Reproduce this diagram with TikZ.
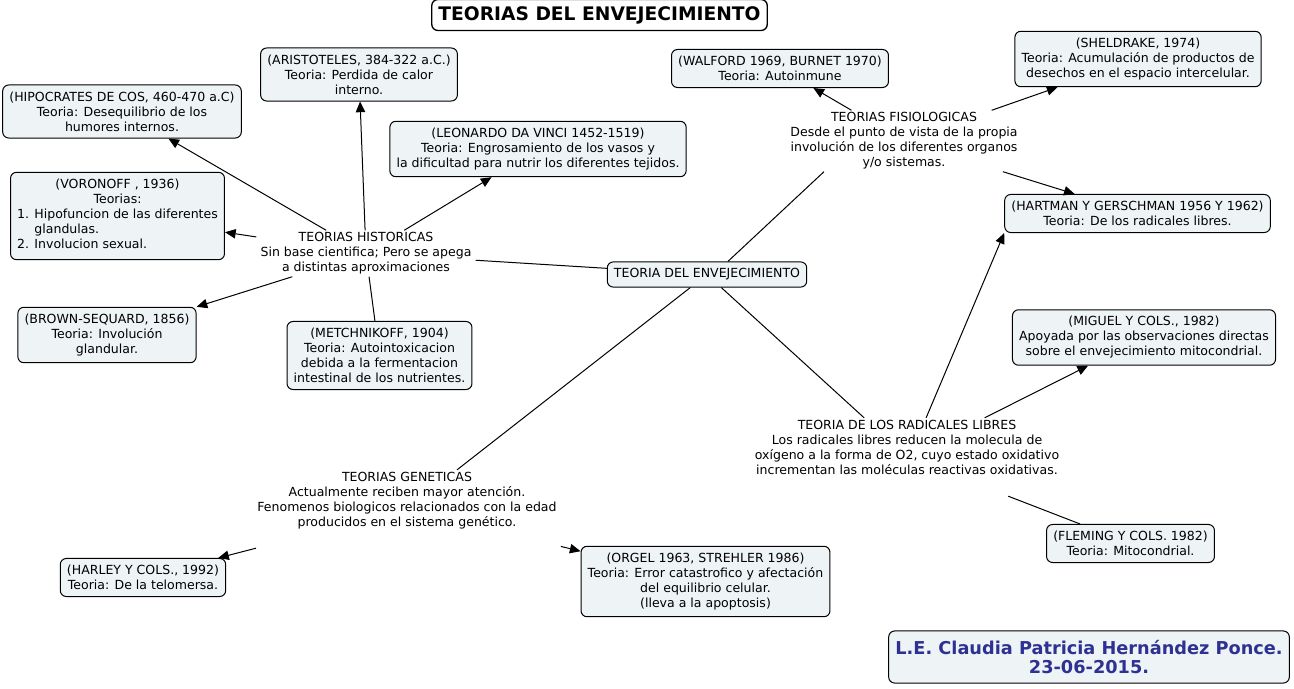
\documentclass[tikz,border=0pt]{standalone}
\usepackage{fontspec}
\setmainfont{DejaVu Sans}
\usetikzlibrary{arrows.meta}
\definecolor{boxfill}{HTML}{EEF4F6}
\definecolor{authorblue}{HTML}{2E3192}

\begin{document}
\begin{tikzpicture}[x=0.75pt,y=-0.75pt,align=center,font=\fontsize{9.4}{11.25}\selectfont]
    \tikzstyle{theory} = [draw,rounded corners=4.5pt,fill=boxfill,inner xsep=5pt,inner ysep=5pt,line width=0.75pt]
    \tikzstyle{phrase} = [inner xsep=3pt,inner ysep=1.5pt]
    \tikzstyle{link} = [line width=0.75pt]
    \tikzstyle{arrow} = [link,-{Triangle[length=8pt,width=7pt]}]
    \useasboundingbox (0,0) rectangle (1294,688);
      \node[theory,fill=white,line width=1pt,font=\fontsize{14}{16}\selectfont\bfseries] (title) at (599.5,15) {TEORIAS DEL ENVEJECIMIENTO};
      \node[theory] (env) at (707,274.5) {TEORIA DEL ENVEJECIMIENTO};
      % historicas
      \node[phrase] (hist) at (366,253.5) {TEORIAS HISTORICAS\\Sin base cientifica; Pero se apega\\a distintas aproximaciones};
      \node[theory] (hipo) at (122,111.5) {(HIPOCRATES DE COS, 460-470 a.C)\\Teoria: Desequilibrio de los\\humores internos.};
      \node[theory] (arist) at (359,74.5) {(ARISTOTELES, 384-322 a.C.)\\Teoria: Perdida de calor\\interno.};
      \node[theory] (leo) at (538,149) {(LEONARDO DA VINCI 1452-1519)\\Teoria: Engrosamiento de los vasos y\\la dificultad para nutrir los diferentes tejidos.};
      \node[theory] (voro) at (117.5,216) {(VORONOFF , 1936)\\Teorias:\\\begin{tabular}[t]{@{}r@{ }l@{}}1.&Hipofuncion de las diferentes\\&glandulas.\\2.&Involucion sexual.\end{tabular}};
      \node[theory] (brown) at (107,335) {(BROWN-SEQUARD, 1856)\\Teoria: Involución\\glandular.};
      \node[theory] (metch) at (379.5,355.5) {(METCHNIKOFF, 1904)\\Teoria: Autointoxicacion\\debida a la fermentacion\\intestinal de los nutrientes.};
      % fisiologicas
      \node[phrase] (fisio) at (904,141) {TEORIAS FISIOLOGICAS\\Desde el punto de vista de la propia\\involución de los diferentes organos\\y/o sistemas.};
      \node[theory] (walf) at (780,68.5) {(WALFORD 1969, BURNET 1970)\\Teoria: Autoinmune};
      \node[theory] (sheld) at (1138,59) {(SHELDRAKE, 1974)\\Teoria: Acumulación de productos de\\desechos en el espacio intercelular.};
      \node[theory] (hart) at (1137.5,213.5) {(HARTMAN Y GERSCHMAN 1956 Y 1962)\\Teoria: De los radicales libres.};
      % radicales libres
      \node[phrase] (rad) at (907,457) {TEORIA DE LOS RADICALES LIBRES\\Los radicales libres reducen la molecula de\\oxígeno a la forma de O2, cuyo estado oxidativo\\incrementan las moléculas reactivas oxidativas.\\\strut};
      \node[theory] (miguel) at (1144,337.5) {(MIGUEL Y COLS., 1982)\\Apoyada por las observaciones directas\\sobre el envejecimiento mitocondrial.};
      \node[theory] (flem) at (1130.5,543.5) {(FLEMING Y COLS. 1982)\\Teoria: Mitocondrial.};
      % geneticas
      \node[phrase] (gen) at (407,509) {TEORIAS GENETICAS\\Actualmente reciben mayor atención.\\Fenomenos biologicos relacionados con la edad\\producidos en el sistema genético.\\\strut};
      \node[theory] (harley) at (143,577.5) {(HARLEY Y COLS., 1992)\\Teoria: De la telomersa.};
      \node[theory] (orgel) at (705.5,581.5) {(ORGEL 1963, STREHLER 1986)\\Teoria: Error catastrofico y afectación\\del equilibrio celular.\\(lleva a la apoptosis)};
      \node[theory,inner ysep=7pt,text=authorblue,font=\fontsize{13.3}{14.25}\selectfont\bfseries] (author) at (1089,657) {L.E. Claudia Patricia Hernández Ponce.\\23-06-2015.};
      \draw[link] (env) -- (hist);
      \draw[link] (env.32) -- (fisio.201);
      \draw[link] (env) -- (rad);
      \draw[link] (env) -- (gen);
      \foreach \t in {hipo,arist,leo,voro,brown} \draw[arrow] (hist) -- (\t);
      \draw[link] (hist) -- (metch);
      \foreach \t in {walf,sheld,hart} \draw[arrow] (fisio) -- (\t);
      \draw[arrow] (rad.64) -- (hart.south west);
      \draw[arrow] (rad) -- (miguel);
      \draw[link] (rad) -- (flem);
      \foreach \t in {harley,orgel} \draw[arrow] (gen) -- (\t);
\end{tikzpicture}
\end{document}
